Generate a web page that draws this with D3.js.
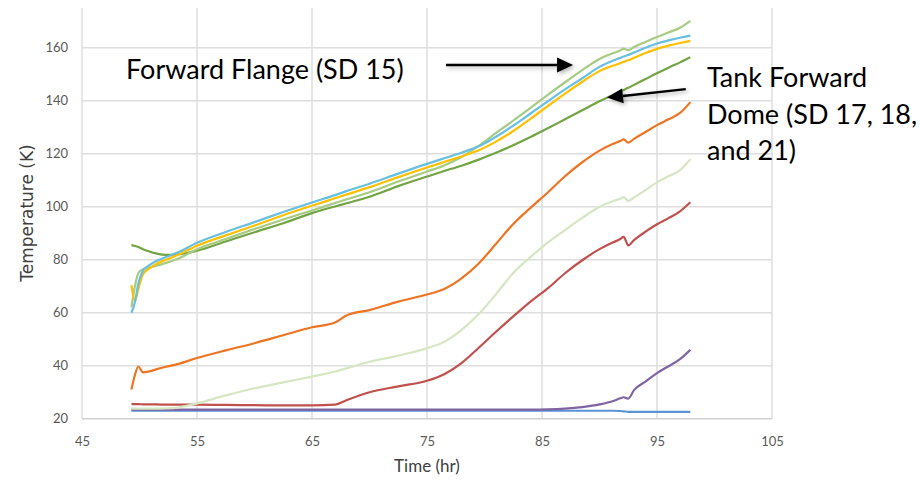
<!DOCTYPE html>
<html>
<head>
<meta charset="utf-8">
<script src="https://cdn.jsdelivr.net/npm/d3@7"></script>
<style>
  body { margin: 0; background: #fff; }
  svg { display: block; font-family: Lato, "Open Sans", sans-serif; }
</style>
</head>
<body>
<svg id="chart" width="920" height="480"></svg>
<script>
// shared time base (hr)
const time      = [49.3, 49.6, 49.9, 50.3, 50.8, 51.5, 52.3, 53.3, 55, 57.5, 60, 62.5, 65, 67, 68, 70, 72.5, 75,
                   76.5, 78, 79.5, 81, 82.5, 84, 85.5, 87, 88.5, 90, 91.2, 91.8, 92.1, 92.5, 93, 94, 95, 96, 97, 97.9];

// temperatures (K)
const flange    = [62, 70, 75, 76.4, 77, 77.8, 78.8, 80.3, 84.0, 87.8, 91.6, 95.2, 98.6, 101.4, 102.8, 105.5, 109.5, 113.3,
                   115.6, 118.8, 123, 127.9, 132.5, 137.3, 142.2, 147, 151.6, 155.8, 158, 159, 159.7, 159.1, 160.3, 162.2, 164.1, 165.8, 167.6, 170.2];
const lightBlue = [60, 64, 71, 75.8, 77.8, 79.6, 81, 82.7, 86.4, 90.5, 94.2, 98, 101.6, 104.4, 105.9, 108.7, 112.5, 116.2,
                   118.3, 120.4, 122.8, 126.4, 130.6, 135.2, 139.8, 144.3, 148.5, 152.8, 155.2, 156.2, 156.7, 157.3, 158.2, 160, 161.6, 162.8, 163.8, 164.6];
const yellow    = [70.4, 64.4, 69, 74.5, 76.5, 78.5, 80, 81.8, 85.3, 89.2, 92.9, 96.8, 100.4, 103.2, 104.6, 107.4, 111.2, 114.8,
                   116.9, 119, 121.3, 124.6, 128.6, 133.2, 138, 142.7, 147.2, 151.2, 153.3, 154.2, 154.7, 155.3, 156.2, 158, 159.6, 160.8, 161.8, 162.6];
const dome      = [85.5, 85.2, 84.8, 84.0, 83.2, 82.3, 81.8, 82.0, 83.4, 86.9, 90.4, 93.8, 97.6, 100.1, 101.3, 103.8, 107.8, 111.4,
                   113.5, 115.5, 117.8, 120.4, 123.2, 126.3, 129.6, 133, 136.4, 139.8, 142.3, 143.5, 144.1, 144.9, 146, 148.2, 150.4, 152.5, 154.5, 156.4];
const orange    = [31, 36.5, 39.7, 37.5, 37.8, 38.7, 39.6, 40.6, 42.9, 45.8, 48.5, 51.5, 54.5, 56.3, 59.0, 61.0, 64.2, 66.9,
                   69, 73, 78.6, 86, 93.5, 99.6, 105.4, 111.5, 116.8, 121.2, 123.8, 124.8, 125.4, 124.2, 125.6, 128.2, 130.8, 133, 135.4, 139.5];
const paleGreen = [23.8, 23.8, 23.8, 23.8, 23.8, 23.8, 23.9, 24.2, 25.8, 28.8, 31.5, 33.7, 35.9, 37.8, 39, 41.5, 43.8, 46.6,
                   49, 53.5, 59.5, 67, 75, 81, 86.5, 91.2, 95.8, 100, 102.2, 103, 103.6, 102.2, 103.5, 106.3, 109.2, 111.5, 113.8, 118];
const red       = [25.6, 25.5, 25.5, 25.4, 25.4, 25.4, 25.3, 25.3, 25.3, 25.2, 25.1, 25.0, 25.0, 25.3, 27, 30, 32.2, 34.3,
                   36.8, 41, 46.8, 52.8, 58.6, 64.2, 69.2, 74.9, 79.8, 84, 86.6, 87.8, 88.6, 85.4, 87.4, 90.6, 93.4, 95.7, 98.3, 101.7];
const purple    = [23.4, 23.4, 23.4, 23.4, 23.4, 23.4, 23.4, 23.4, 23.4, 23.4, 23.4, 23.4, 23.4, 23.4, 23.4, 23.4, 23.4, 23.4,
                   23.4, 23.4, 23.4, 23.4, 23.4, 23.4, 23.5, 23.8, 24.4, 25.4, 26.7, 27.7, 28.1, 27.6, 30.8, 34, 37.2, 39.8, 42.5, 46];
const blueFlat  = [23.0, 23.0, 23.0, 23.0, 23.0, 23.0, 23.0, 23.0, 23.0, 23.0, 23.0, 23.0, 23.0, 23.0, 23.0, 23.0, 23.0, 23.0,
                   23.0, 23.0, 23.0, 23.0, 23.0, 23.0, 23.0, 23.0, 23.0, 23.0, 23.0, 22.9, 22.8, 22.6, 22.6, 22.6, 22.6, 22.6, 22.6, 22.6];

const xTicks = [45, 55, 65, 75, 85, 95, 105];
const yTicks = [20, 40, 60, 80, 100, 120, 140, 160];

const series = [
  { values: blueFlat,  color: "#5B93D6" },
  { values: purple,    color: "#8064A2" },
  { values: red,       color: "#C0504D" },
  { values: paleGreen, color: "#D6E6C2" },
  { values: orange,    color: "#EE7422" },
  { values: dome,      color: "#72A443" },
  { values: flange,    color: "#A6CB83" },
  { values: yellow,    color: "#FFC000" },
  { values: lightBlue, color: "#68BFE0" }
];

const svg = d3.select("#chart");
const x = d3.scaleLinear().domain([45, 105]).range([82, 772]);
const y = d3.scaleLinear().domain([20, 160]).range([418.7, 47.8]);
const plotTop = 8;

// soft shadow like the Office shape arrows
const defs = svg.append("defs");
defs.append("filter").attr("id", "shadow").attr("x", "-20%").attr("y", "-50%").attr("width", "140%").attr("height", "200%")
  .append("feDropShadow").attr("dx", 2).attr("dy", 2).attr("stdDeviation", 2)
  .attr("flood-color", "#000").attr("flood-opacity", 0.3);

// gridlines
svg.append("g").selectAll("line").data(yTicks.slice(1)).enter().append("line")
  .attr("x1", x(45)).attr("x2", x(105))
  .attr("y1", d => y(d)).attr("y2", d => y(d))
  .attr("stroke", "#DEDEDE").attr("stroke-width", 1.5);
svg.append("g").selectAll("line").data(xTicks).enter().append("line")
  .attr("x1", d => x(d)).attr("x2", d => x(d))
  .attr("y1", y(20)).attr("y2", plotTop)
  .attr("stroke", "#DEDEDE").attr("stroke-width", 1.5);
// bottom axis line
svg.append("line").attr("x1", x(45)).attr("x2", x(105)).attr("y1", y(20)).attr("y2", y(20))
  .attr("stroke", "#CFCFCF").attr("stroke-width", 1.5);

// tick labels
const xAxis = svg.append("g").attr("transform", `translate(0,${y(20)})`)
  .call(d3.axisBottom(x).tickValues(xTicks).tickSize(0).tickPadding(18));
const yAxis = svg.append("g").attr("transform", `translate(${x(45)},0)`)
  .call(d3.axisLeft(y).tickValues(yTicks).tickSize(0).tickPadding(14));
[xAxis, yAxis].forEach(a => {
  a.select(".domain").remove();
  a.selectAll("text").attr("font-family", "Lato, sans-serif").attr("font-size", 13).attr("fill", "#595959");
});

// axis titles
svg.append("text").attr("x", x(75)).attr("y", 472).attr("text-anchor", "middle")
  .attr("font-size", 17).attr("fill", "#404040").text("Time (hr)");
const yTitle = svg.append("text").attr("transform", "translate(33,213) rotate(-90)").attr("text-anchor", "middle")
  .attr("font-family", "'DejaVu Sans', sans-serif")
  .attr("font-size", 14.5).attr("fill", "#404040").text("Temperature (K)");
// the reference title is about 140px long
const titleLen = yTitle.node().getComputedTextLength();
if (titleLen > 0) yTitle.attr("font-size", Math.min(17, 14.5 * 140 / titleLen));

// series
const line = d3.line().x((d, i) => x(time[i])).y(d => y(d)).curve(d3.curveMonotoneX);
svg.append("g").selectAll("path").data(series).enter().append("path")
  .attr("d", d => line(d.values))
  .attr("fill", "none")
  .attr("stroke", d => d.color)
  .attr("stroke-width", 2.2)
  .attr("stroke-linejoin", "round");

// annotations
const arrows = [
  { from: [76.65, 153.5], to: [87.7, 153.5] },
  { from: [97.5, 144.4], to: [90.65, 141.2] }
];
arrows.forEach(a => {
  const x1 = x(a.from[0]), y1 = y(a.from[1]), x2 = x(a.to[0]), y2 = y(a.to[1]);
  const ang = Math.atan2(y2 - y1, x2 - x1);
  const len = 16, half = 7.5;
  const bx = x2 - len * Math.cos(ang), by = y2 - len * Math.sin(ang);
  const g = svg.append("g").attr("filter", "url(#shadow)");
  g.append("line").attr("x1", x1).attr("y1", y1).attr("x2", bx).attr("y2", by)
    .attr("stroke", "#000").attr("stroke-width", 2.5);
  g.append("path")
    .attr("d", `M${x2},${y2}L${bx - half * Math.sin(ang)},${by + half * Math.cos(ang)}L${bx + half * Math.sin(ang)},${by - half * Math.cos(ang)}Z`)
    .attr("fill", "#000");
});

svg.append("text").attr("x", 126).attr("y", 79).attr("font-size", 27).attr("fill", "#000")
  .text("Forward Flange (SD 15)");
const domeLabel = svg.append("text").attr("x", 707).attr("y", 87).attr("font-size", 27).attr("fill", "#000");
["Tank Forward", "Dome (SD 17, 18,", "and 21)"].forEach((t, i) => {
  domeLabel.append("tspan").attr("x", 707).attr("dy", i === 0 ? 0 : 36.5).text(t);
});
</script>
</body>
</html>
